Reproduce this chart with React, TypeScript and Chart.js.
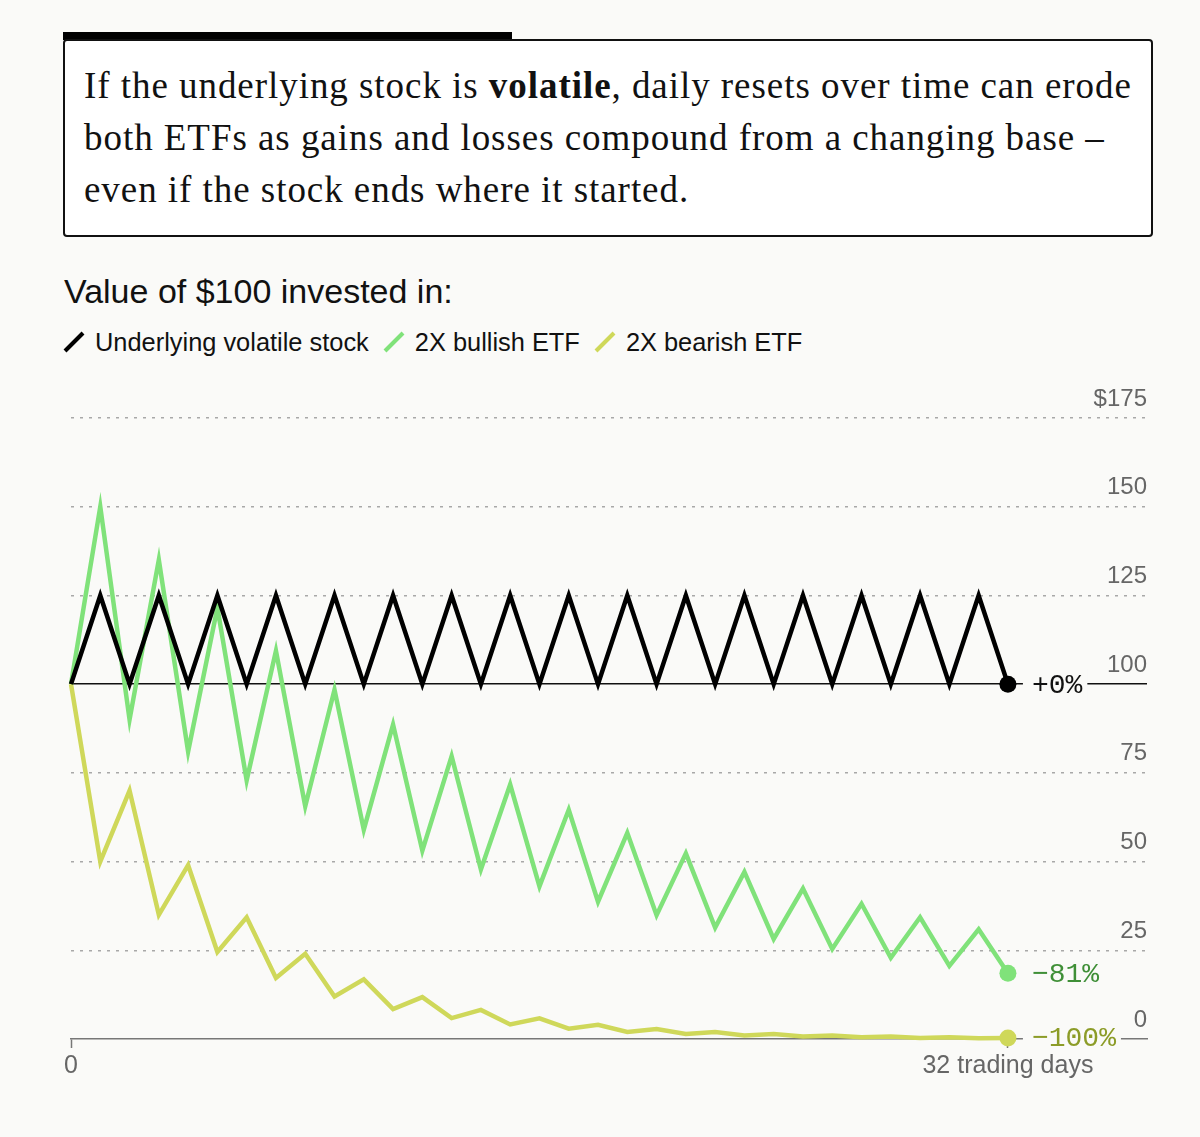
import React, { useEffect, useRef } from 'react';
import { Chart, registerables } from 'chart.js';

Chart.register(...registerables);

// ---- Data ----
const days = [0, 1, 2, 3, 4, 5, 6, 7, 8, 9, 10, 11, 12, 13, 14, 15, 16, 17, 18, 19, 20, 21, 22, 23, 24, 25, 26, 27, 28, 29, 30, 31, 32];
const stockValues = [100, 125, 100, 125, 100, 125, 100, 125, 100, 125, 100, 125, 100, 125, 100, 125, 100, 125, 100, 125, 100, 125, 100, 125, 100, 125, 100, 125, 100, 125, 100, 125, 100];
const bullValues = [100, 150, 90, 135, 81, 121.5, 72.9, 109.4, 65.6, 98.4, 59.0, 88.6, 53.1, 79.7, 47.8, 71.7, 43.0, 64.6, 38.7, 58.1, 34.9, 52.3, 31.4, 47.1, 28.2, 42.4, 25.4, 38.1, 22.9, 34.3, 20.6, 30.9, 18.5];
const bearValues = [100, 50, 70, 35, 49, 24.5, 34.3, 17.2, 24.0, 12.0, 16.8, 8.4, 11.8, 5.9, 8.2, 4.1, 5.8, 2.9, 4.0, 2.0, 2.8, 1.4, 2.0, 1.0, 1.4, 0.7, 1.0, 0.5, 0.7, 0.3, 0.5, 0.2, 0.3];
const seriesNames = ['Underlying volatile stock', '2X bullish ETF', '2X bearish ETF'];
const endLabels = ['+0%', '\u221281%', '\u2212100%'];
const yTickValues = [0, 25, 50, 75, 100, 125, 150, 175];
const yTickLabels = ['0', '25', '50', '75', '100', '125', '150', '$175'];
const xTickValues = [0, 32];
const xTickLabels = ['0', '32 trading days'];

// ---- Styles ----
const BG = '#fafaf8';
const LINE_COLORS = ['#000000', '#80e27a', '#cfd85a'];
const LABEL_COLORS = ['#111111', '#3f8f37', '#8c9c28'];
const SANS = '"Liberation Sans", Arial, Helvetica, sans-serif';
const SERIF = '"Liberation Serif", "Times New Roman", serif';
const MONO = '"Liberation Mono", "DejaVu Sans Mono", monospace';

const endLabelPlugin = {
  id: 'endLabels',
  afterDatasetsDraw(chart: any) {
    const ctx = chart.ctx;
    chart.data.datasets.forEach((_ds: any, i: number) => {
      const meta = chart.getDatasetMeta(i);
      const pt = meta.data[meta.data.length - 1];
      if (!pt) return;
      const text = endLabels[i];
      ctx.save();
      ctx.font = `28px ${MONO}`;
      const w = ctx.measureText(text).width;
      const x = pt.x + 24;
      const y = pt.y;
      ctx.fillStyle = BG;
      ctx.fillRect(x - 9, y - 16, w + 14, 32);
      ctx.fillStyle = LABEL_COLORS[i];
      ctx.textBaseline = 'middle';
      ctx.textAlign = 'left';
      ctx.fillText(text, x, y + 1);
      ctx.restore();
    });
  },
};

function LegendSlash({ color }: { color: string }) {
  return (
    <svg width="22" height="22" style={{ display: 'block' }}>
      <line x1="2" y1="20" x2="20" y2="2" stroke={color} strokeWidth="4" />
    </svg>
  );
}

export default function App() {
  const canvasRef = useRef<HTMLCanvasElement>(null);

  useEffect(() => {
    document.body.style.margin = '0';
    document.body.style.background = BG;
    const canvas = canvasRef.current!;
    const lastIndex = days.length - 1;
    const seriesValues = [stockValues, bullValues, bearValues];
    const chart = new Chart(canvas, {
      type: 'line',
      data: {
        datasets: seriesValues.map((vals, i) => ({
          label: seriesNames[i],
          data: vals.map((v, j) => ({ x: days[j], y: v })),
          borderColor: LINE_COLORS[i],
          backgroundColor: LINE_COLORS[i],
          borderWidth: 4.5,
          tension: 0,
          fill: false,
          clip: false as any,
          pointRadius: (c: any) => (c.dataIndex === lastIndex ? 8.5 : 0),
          pointHoverRadius: (c: any) => (c.dataIndex === lastIndex ? 8.5 : 0),
          pointBorderWidth: 0,
          pointBackgroundColor: LINE_COLORS[i],
        })),
      },
      options: {
        animation: false,
        responsive: false,
        events: [],
        layout: { padding: { left: 71, right: 53, top: 38, bottom: 11 } },
        plugins: { legend: { display: false }, tooltip: { enabled: false } },
        scales: {
          x: {
            type: 'linear',
            min: 0,
            max: 36.75,
            afterBuildTicks: (s: any) => {
              s.ticks = xTickValues.map((v) => ({ value: v }));
            },
            afterFit: (s: any) => {
              s.height = 50;
            },
            ticks: {
              autoSkip: false,
              maxRotation: 0,
              padding: 3,
              color: '#666666',
              font: { family: SANS, size: 25 },
              callback: (v: any) => xTickLabels[xTickValues.indexOf(Number(v))],
            },
            grid: {
              drawOnChartArea: false,
              drawTicks: true,
              tickLength: 9,
              tickColor: '#777777',
              tickWidth: 1.5,
            },
            border: { display: true, color: '#777777', width: 1.5 },
          },
          y: {
            type: 'linear',
            position: 'right',
            min: 0,
            max: 175,
            afterBuildTicks: (s: any) => {
              s.ticks = yTickValues.map((v) => ({ value: v }));
            },
            afterFit: (s: any) => {
              s.width = 0;
            },
            ticks: {
              mirror: true,
              padding: 0,
              labelOffset: -19,
              color: '#666666',
              font: { family: SANS, size: 24 },
              callback: (v: any) => yTickLabels[yTickValues.indexOf(Number(v))],
            },
            grid: {
              drawTicks: false,
              lineWidth: 1.5,
              color: (c: any) =>
                c.tick && c.tick.value === 100
                  ? '#111111'
                  : c.tick && c.tick.value === 0
                  ? 'rgba(0,0,0,0)'
                  : '#a8a8a8',
            },
            border: {
              display: false,
              dash: (c: any) => (c.tick && (c.tick.value === 100 || c.tick.value === 0) ? [] : [3, 6]),
            },
          },
        },
      },
      plugins: [endLabelPlugin],
    } as any);
    return () => chart.destroy();
  }, []);

  return (
    <div style={{ position: 'relative', width: 1200, height: 1137, background: BG, overflow: 'hidden' }}>
      <div style={{ position: 'absolute', left: 63, top: 32, width: 449, height: 8, background: '#000' }} />
      <div
        style={{
          position: 'absolute',
          left: 63,
          top: 39,
          width: 1090,
          height: 198,
          boxSizing: 'border-box',
          border: '2.5px solid #111',
          borderRadius: 4,
          background: '#ffffff',
        }}
      />
      <div
        style={{
          position: 'absolute',
          left: 84,
          top: 60,
          fontFamily: SERIF,
          fontSize: 37,
          letterSpacing: '0.95px',
          lineHeight: '52px',
          color: '#111',
          whiteSpace: 'nowrap',
        }}
      >
        If the underlying stock is <b>volatile</b>, daily resets over time can erode
        <br />
        both ETFs as gains and losses compound from a changing base –
        <br />
        even if the stock ends where it started.
      </div>
      <div
        style={{
          position: 'absolute',
          left: 64,
          top: 272,
          fontFamily: SANS,
          fontSize: 34,
          lineHeight: '38px',
          color: '#111',
          whiteSpace: 'nowrap',
        }}
      >
        Value of $100 invested in:
      </div>
      <div
        style={{
          position: 'absolute',
          left: 63,
          top: 327,
          display: 'flex',
          alignItems: 'center',
          fontFamily: SANS,
          fontSize: 25.4,
          lineHeight: '30px',
          color: '#111',
          whiteSpace: 'nowrap',
        }}
      >
        {seriesNames.map((name, i) => (
          <div key={name} style={{ display: 'flex', alignItems: 'center', marginRight: 14 }}>
            <LegendSlash color={LINE_COLORS[i]} />
            <span style={{ marginLeft: 10 }}>{name}</span>
          </div>
        ))}
      </div>
      <canvas
        ref={canvasRef}
        width={1200}
        height={720}
        style={{ position: 'absolute', left: 0, top: 380, width: 1200, height: 720 }}
      />
    </div>
  );
}
